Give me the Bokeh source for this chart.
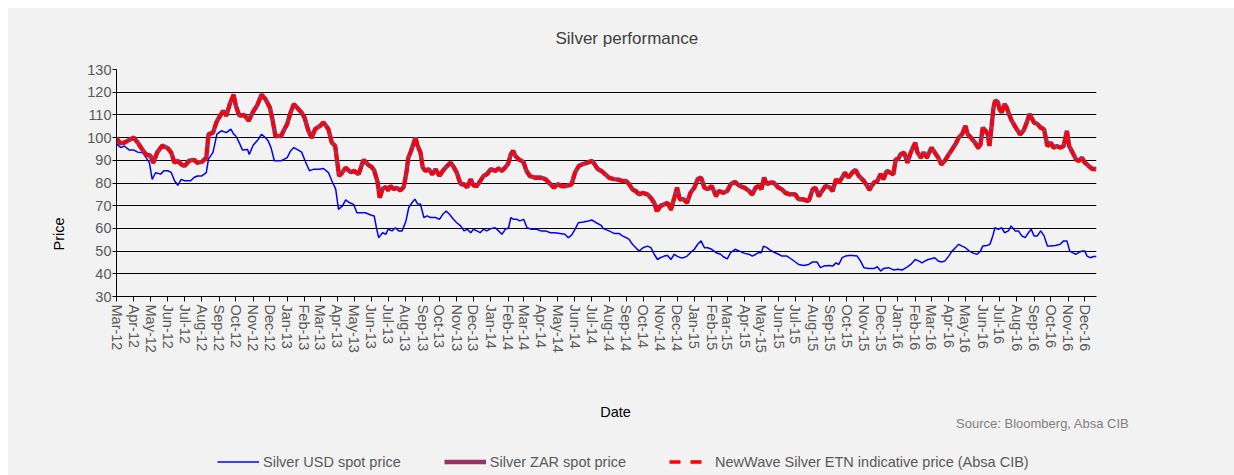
import pandas as pd
from bokeh.plotting import figure
from bokeh.layouts import column
from bokeh.models import (Range1d, FixedTicker, DatetimeTickFormatter, Title, Label,
                          Legend, LegendItem)
from bokeh.embed import file_html
from bokeh.resources import INLINE

# ---------------- data ----------------
usd_dates = [
    "2012-03-01", "2012-03-09", "2012-03-15", "2012-03-24", "2012-04-01", "2012-04-08",
    "2012-04-17", "2012-04-23", "2012-04-29", "2012-05-04", "2012-05-10", "2012-05-19",
    "2012-05-25", "2012-06-01", "2012-06-07", "2012-06-13", "2012-06-19", "2012-06-25",
    "2012-07-01", "2012-07-12", "2012-07-18", "2012-07-24", "2012-08-01", "2012-08-09",
    "2012-08-13", "2012-08-21", "2012-08-28", "2012-09-05", "2012-09-14", "2012-09-22",
    "2012-09-27", "2012-10-01", "2012-10-07", "2012-10-13", "2012-10-22", "2012-10-25",
    "2012-11-01", "2012-11-10", "2012-11-16", "2012-11-23", "2012-11-28", "2012-12-03",
    "2012-12-09", "2012-12-21", "2012-12-27", "2013-01-01", "2013-01-07", "2013-01-13",
    "2013-01-21", "2013-01-27", "2013-02-02", "2013-02-10", "2013-02-18", "2013-02-27",
    "2013-03-07", "2013-03-16", "2013-03-22", "2013-03-29", "2013-04-03", "2013-04-10",
    "2013-04-16", "2013-04-22", "2013-04-30", "2013-05-06", "2013-05-12", "2013-05-21",
    "2013-06-01", "2013-06-06", "2013-06-10", "2013-06-14", "2013-06-21", "2013-06-27",
    "2013-07-01", "2013-07-08", "2013-07-14", "2013-07-20", "2013-07-26", "2013-08-02",
    "2013-08-07", "2013-08-13", "2013-08-18", "2013-08-23", "2013-08-28", "2013-09-03",
    "2013-09-09", "2013-09-15", "2013-09-24", "2013-10-01", "2013-10-07", "2013-10-13",
    "2013-10-19", "2013-10-26", "2013-11-01", "2013-11-08", "2013-11-14", "2013-11-20",
    "2013-11-26", "2013-12-01", "2013-12-07", "2013-12-13", "2013-12-19", "2013-12-25",
    "2014-01-01", "2014-01-09", "2014-01-15", "2014-01-21", "2014-01-27", "2014-02-02",
    "2014-02-06", "2014-02-11", "2014-02-17", "2014-02-22", "2014-03-01", "2014-03-07",
    "2014-03-15", "2014-03-24", "2014-04-01", "2014-04-09", "2014-04-18", "2014-04-26",
    "2014-05-05", "2014-05-14", "2014-05-20", "2014-05-26", "2014-06-01", "2014-06-07",
    "2014-06-16", "2014-06-25", "2014-07-01", "2014-07-09", "2014-07-18", "2014-07-22",
    "2014-08-01", "2014-08-10", "2014-08-19", "2014-08-25", "2014-09-01", "2014-09-06",
    "2014-09-12", "2014-09-18", "2014-09-24", "2014-10-01", "2014-10-09", "2014-10-15",
    "2014-10-21", "2014-10-27", "2014-11-01", "2014-11-08", "2014-11-14", "2014-11-20",
    "2014-11-26", "2014-12-01", "2014-12-07", "2014-12-13", "2014-12-19", "2014-12-25",
    "2015-01-01", "2015-01-07", "2015-01-13", "2015-01-19", "2015-01-25", "2015-02-01",
    "2015-02-09", "2015-02-17", "2015-02-22", "2015-03-01", "2015-03-07", "2015-03-15",
    "2015-03-23", "2015-04-01", "2015-04-09", "2015-04-15", "2015-04-21", "2015-04-26",
    "2015-05-01", "2015-05-05", "2015-05-11", "2015-05-17", "2015-05-23", "2015-06-01",
    "2015-06-07", "2015-06-16", "2015-06-25", "2015-07-01", "2015-07-07", "2015-07-16",
    "2015-07-25", "2015-08-01", "2015-08-09", "2015-08-15", "2015-08-21", "2015-08-30",
    "2015-09-06", "2015-09-12", "2015-09-17", "2015-09-23", "2015-09-29", "2015-10-06",
    "2015-10-11", "2015-10-20", "2015-10-26", "2015-11-01", "2015-11-10", "2015-11-19",
    "2015-11-25", "2015-12-01", "2015-12-06", "2015-12-15", "2015-12-24", "2016-01-01",
    "2016-01-09", "2016-01-18", "2016-01-24", "2016-02-01", "2016-02-08", "2016-02-13",
    "2016-02-18", "2016-02-24", "2016-03-01", "2016-03-07", "2016-03-13", "2016-03-19",
    "2016-03-25", "2016-04-01", "2016-04-07", "2016-04-13", "2016-04-19", "2016-04-25",
    "2016-05-01", "2016-05-08", "2016-05-16", "2016-05-22", "2016-05-28", "2016-06-01",
    "2016-06-09", "2016-06-14", "2016-06-19", "2016-06-23", "2016-06-29", "2016-07-05",
    "2016-07-10", "2016-07-17", "2016-07-22", "2016-07-29", "2016-08-04", "2016-08-10",
    "2016-08-16", "2016-08-22", "2016-08-27", "2016-09-01", "2016-09-07", "2016-09-13",
    "2016-09-19", "2016-09-25", "2016-10-01", "2016-10-09", "2016-10-18", "2016-10-24",
    "2016-10-30", "2016-11-04", "2016-11-09", "2016-11-15", "2016-11-20", "2016-11-26",
    "2016-12-01", "2016-12-05", "2016-12-11", "2016-12-17", "2016-12-22",
]
usd_values = [
    97.1, 95.6, 96.3, 94.5, 94.5, 93.6, 93.3, 91.2, 89.0, 81.6, 84.5, 83.9,
    85.4, 85.4, 84.7, 81.0, 79.0, 81.6, 81.0, 81.0, 82.4, 83.1, 83.1, 84.6,
    90.6, 93.5, 101.5, 103.0, 102.2, 103.7, 101.5, 100.7, 97.8, 94.5, 94.8, 92.6,
    96.6, 99.2, 101.5, 100.0, 98.5, 95.6, 89.8, 89.8, 90.5, 91.2, 94.1, 95.6,
    94.5, 93.6, 89.8, 85.4, 86.1, 86.1, 86.4, 84.6, 81.0, 77.3, 68.4, 69.9,
    72.6, 71.4, 70.6, 66.9, 66.9, 66.9, 65.8, 65.5, 60.3, 55.9, 58.1, 57.4,
    59.6, 58.9, 60.3, 58.9, 58.9, 63.3, 69.2, 71.4, 72.9, 70.7, 70.7, 64.8,
    65.5, 64.8, 64.8, 64.0, 66.2, 67.7, 66.2, 64.0, 62.5, 61.1, 58.9, 59.6,
    58.1, 59.6, 58.9, 58.1, 59.6, 58.9, 59.9, 60.3, 58.9, 57.4, 59.6, 60.3,
    64.8, 64.0, 64.0, 63.3, 64.0, 60.3, 59.6, 59.6, 58.9, 58.9, 58.1, 58.1,
    57.8, 57.4, 55.9, 57.0, 59.6, 62.5, 62.8, 63.3, 63.7, 62.5, 61.3, 59.9,
    58.9, 57.8, 57.8, 56.7, 55.9, 55.2, 53.0, 51.5, 50.0, 51.5, 52.2, 51.5,
    48.6, 46.3, 47.1, 47.8, 48.1, 46.3, 48.6, 47.8, 47.1, 47.1, 47.8, 49.3,
    50.8, 53.0, 54.5, 51.5, 51.5, 50.8, 49.3, 48.6, 47.5, 46.6, 49.3, 50.8,
    50.0, 49.0, 48.6, 47.8, 48.6, 49.3, 49.3, 52.2, 51.5, 50.4, 49.6, 48.6,
    47.8, 47.8, 46.3, 45.2, 44.1, 43.7, 44.1, 45.2, 45.2, 42.7, 43.4, 43.7,
    43.4, 44.8, 44.1, 47.1, 47.8, 48.1, 48.1, 47.8, 45.6, 42.7, 42.3, 42.3,
    43.1, 41.2, 42.3, 42.7, 41.7, 42.0, 41.7, 43.1, 44.1, 46.3, 45.6, 44.8,
    45.6, 46.3, 46.6, 47.1, 45.6, 45.2, 45.6, 47.8, 50.0, 51.5, 53.0, 52.2,
    51.5, 50.0, 49.0, 48.6, 50.0, 52.2, 52.5, 53.0, 56.7, 60.3, 59.6, 60.3,
    58.1, 58.9, 61.1, 58.9, 58.9, 56.7, 55.9, 58.1, 59.6, 56.7, 56.7, 58.9,
    56.7, 52.2, 52.2, 52.5, 53.0, 54.5, 54.5, 50.0, 49.3, 48.6, 49.3, 50.0,
    50.0, 47.8, 47.1, 47.6, 47.6,
]

zar_dates = [
    "2012-03-01", "2012-03-07", "2012-03-15", "2012-03-24", "2012-04-01", "2012-04-08",
    "2012-04-17", "2012-04-23", "2012-05-01", "2012-05-06", "2012-05-13", "2012-05-22",
    "2012-06-01", "2012-06-07", "2012-06-13", "2012-06-19", "2012-06-25", "2012-07-01",
    "2012-07-09", "2012-07-18", "2012-07-24", "2012-08-01", "2012-08-09", "2012-08-13",
    "2012-08-21", "2012-08-27", "2012-09-01", "2012-09-08", "2012-09-14", "2012-09-20",
    "2012-09-27", "2012-10-01", "2012-10-07", "2012-10-16", "2012-10-24", "2012-11-01",
    "2012-11-08", "2012-11-16", "2012-11-23", "2012-12-01", "2012-12-06", "2012-12-11",
    "2012-12-21", "2012-12-27", "2013-01-01", "2013-01-07", "2013-01-13", "2013-01-21",
    "2013-01-27", "2013-02-01", "2013-02-08", "2013-02-14", "2013-02-20", "2013-02-24",
    "2013-03-01", "2013-03-07", "2013-03-16", "2013-03-22", "2013-03-28", "2013-04-04",
    "2013-04-10", "2013-04-16", "2013-04-25", "2013-05-01", "2013-05-09", "2013-05-18",
    "2013-05-27", "2013-06-01", "2013-06-06", "2013-06-12", "2013-06-16", "2013-06-21",
    "2013-06-27", "2013-07-01", "2013-07-05", "2013-07-11", "2013-07-17", "2013-07-23",
    "2013-07-29", "2013-08-03", "2013-08-06", "2013-08-11", "2013-08-17", "2013-08-19",
    "2013-08-23", "2013-08-28", "2013-09-01", "2013-09-06", "2013-09-12", "2013-09-18",
    "2013-09-24", "2013-10-01", "2013-10-07", "2013-10-15", "2013-10-21", "2013-10-27",
    "2013-11-01", "2013-11-08", "2013-11-14", "2013-11-20", "2013-11-26", "2013-12-01",
    "2013-12-07", "2013-12-13", "2013-12-19", "2013-12-25", "2014-01-01", "2014-01-09",
    "2014-01-15", "2014-01-21", "2014-01-27", "2014-02-01", "2014-02-06", "2014-02-10",
    "2014-02-14", "2014-02-20", "2014-02-25", "2014-03-01", "2014-03-06", "2014-03-12",
    "2014-03-21", "2014-04-01", "2014-04-09", "2014-04-18", "2014-04-24", "2014-05-01",
    "2014-05-08", "2014-05-17", "2014-05-26", "2014-06-01", "2014-06-08", "2014-06-16",
    "2014-06-23", "2014-07-01", "2014-07-06", "2014-07-12", "2014-07-18", "2014-07-22",
    "2014-08-01", "2014-08-10", "2014-08-19", "2014-08-25", "2014-09-01", "2014-09-06",
    "2014-09-12", "2014-09-18", "2014-09-24", "2014-10-01", "2014-10-09", "2014-10-15",
    "2014-10-21", "2014-10-26", "2014-11-01", "2014-11-08", "2014-11-14", "2014-11-20",
    "2014-11-26", "2014-12-01", "2014-12-06", "2014-12-13", "2014-12-19", "2014-12-25",
    "2015-01-01", "2015-01-07", "2015-01-13", "2015-01-19", "2015-01-25", "2015-02-01",
    "2015-02-09", "2015-02-14", "2015-02-22", "2015-03-01", "2015-03-07", "2015-03-15",
    "2015-03-23", "2015-04-01", "2015-04-09", "2015-04-15", "2015-04-21", "2015-04-26",
    "2015-05-01", "2015-05-06", "2015-05-11", "2015-05-17", "2015-05-23", "2015-06-01",
    "2015-06-07", "2015-06-13", "2015-06-22", "2015-07-01", "2015-07-07", "2015-07-16",
    "2015-07-25", "2015-08-01", "2015-08-06", "2015-08-12", "2015-08-18", "2015-08-24",
    "2015-09-01", "2015-09-06", "2015-09-12", "2015-09-17", "2015-09-23", "2015-09-28",
    "2015-10-04", "2015-10-11", "2015-10-17", "2015-10-23", "2015-11-01", "2015-11-07",
    "2015-11-11", "2015-11-19", "2015-11-25", "2015-12-01", "2015-12-06", "2015-12-12",
    "2015-12-18", "2015-12-24", "2015-12-28", "2016-01-01", "2016-01-06", "2016-01-12",
    "2016-01-18", "2016-01-24", "2016-02-01", "2016-02-05", "2016-02-11", "2016-02-16",
    "2016-02-22", "2016-03-01", "2016-03-07", "2016-03-13", "2016-03-19", "2016-03-25",
    "2016-04-01", "2016-04-07", "2016-04-13", "2016-04-19", "2016-04-25", "2016-05-01",
    "2016-05-05", "2016-05-11", "2016-05-18", "2016-05-24", "2016-05-28", "2016-06-01",
    "2016-06-06", "2016-06-10", "2016-06-13", "2016-06-17", "2016-06-20", "2016-06-23",
    "2016-06-28", "2016-07-01", "2016-07-05", "2016-07-10", "2016-07-14", "2016-07-18",
    "2016-07-23", "2016-08-01", "2016-08-07", "2016-08-13", "2016-08-19", "2016-08-24",
    "2016-09-01", "2016-09-07", "2016-09-13", "2016-09-19", "2016-09-25", "2016-10-01",
    "2016-10-06", "2016-10-12", "2016-10-18", "2016-10-24", "2016-10-30", "2016-11-03",
    "2016-11-09", "2016-11-15", "2016-11-20", "2016-11-26", "2016-12-01", "2016-12-08",
    "2016-12-14", "2016-12-22",
]
zar_values = [
    100.0, 97.5, 97.8, 99.0, 100.0, 97.8, 94.5, 92.6, 92.0, 89.0, 93.5, 96.5,
    95.3, 93.5, 89.0, 89.8, 88.3, 87.5, 89.8, 90.2, 89.0, 89.3, 91.2, 101.5,
    102.2, 106.7, 108.9, 111.8, 109.7, 114.8, 118.9, 114.1, 109.7, 110.0, 107.5, 111.5,
    114.1, 118.9, 117.0, 113.3, 107.5, 100.7, 100.7, 103.7, 106.0, 111.0, 114.8, 112.6,
    111.0, 108.9, 103.0, 100.0, 103.7, 104.4, 105.2, 106.7, 103.7, 97.8, 96.4, 83.2,
    84.7, 86.8, 84.7, 85.4, 83.9, 90.2, 87.9, 87.2, 85.6, 80.5, 73.5, 77.5,
    78.3, 76.8, 78.7, 77.5, 77.8, 76.8, 78.3, 85.0, 91.0, 94.1, 98.5, 100.0,
    96.3, 93.5, 86.9, 85.4, 86.1, 83.9, 86.1, 83.1, 85.4, 87.6, 89.0, 86.9,
    84.6, 79.5, 79.5, 78.1, 81.7, 79.0, 78.7, 80.9, 83.1, 83.9, 86.1, 85.4,
    86.4, 85.4, 86.9, 88.4, 92.7, 94.2, 92.0, 90.5, 89.8, 89.0, 85.4, 83.1,
    82.4, 82.4, 81.7, 79.5, 78.0, 79.5, 78.7, 78.7, 79.5, 84.6, 87.6, 88.4,
    89.0, 89.8, 88.4, 86.1, 85.4, 84.6, 82.4, 81.7, 81.4, 80.9, 80.9, 79.5,
    77.2, 76.5, 75.0, 75.7, 75.0, 73.5, 71.3, 67.6, 69.9, 70.6, 71.3, 68.4,
    73.5, 78.0, 72.8, 72.8, 71.3, 75.7, 78.0, 81.7, 82.4, 78.0, 77.2, 78.7,
    74.3, 76.5, 75.7, 76.5, 79.5, 80.5, 78.7, 78.0, 76.5, 75.0, 78.0, 78.7,
    77.2, 82.4, 79.5, 80.2, 80.2, 78.0, 77.2, 75.7, 75.0, 75.0, 72.8, 72.8,
    72.0, 77.2, 78.0, 74.3, 76.5, 78.7, 78.0, 76.5, 81.7, 80.2, 82.4, 84.6,
    82.4, 84.6, 85.8, 83.1, 80.9, 78.7, 77.2, 80.2, 80.9, 84.0, 81.7, 85.4,
    84.6, 83.9, 90.5, 90.5, 92.7, 93.5, 89.0, 93.5, 97.8, 93.5, 91.2, 93.5,
    91.2, 95.6, 93.5, 91.2, 88.3, 89.8, 92.6, 94.8, 97.1, 100.0, 101.5, 105.2,
    101.5, 100.0, 97.8, 95.6, 97.0, 104.4, 103.0, 101.5, 96.3, 105.2, 112.6, 116.3,
    115.8, 112.6, 111.0, 114.8, 113.3, 110.4, 107.5, 103.7, 101.5, 103.0, 106.7, 110.4,
    106.7, 106.0, 104.4, 103.7, 96.3, 97.8, 95.6, 96.3, 95.6, 96.3, 103.0, 96.3,
    93.5, 90.5, 89.8, 91.2, 89.0, 87.5, 86.4, 86.1,
]
# NewWave ETN tracks the ZAR price on the same dates
etn_values = [
    100.0, 97.3, 97.6, 99.0, 99.8, 97.6, 94.3, 92.4, 91.8, 88.8, 93.3, 96.3,
    95.1, 93.3, 88.8, 89.6, 88.1, 87.3, 89.6, 90.0, 88.8, 89.1, 91.0, 101.3,
    102.0, 106.5, 108.7, 111.6, 109.5, 114.6, 118.9, 114.0, 109.5, 109.8, 107.3, 111.3,
    114.0, 118.9, 116.8, 113.1, 107.3, 100.5, 100.5, 103.5, 105.8, 110.8, 114.8, 112.4,
    110.8, 108.7, 102.8, 99.8, 103.5, 104.2, 105.0, 106.5, 103.5, 97.6, 96.2, 83.0,
    84.5, 86.6, 84.5, 85.2, 83.7, 90.0, 87.7, 87.0, 85.4, 80.3, 73.0, 77.3,
    78.1, 76.6, 78.5, 77.3, 77.6, 76.6, 78.1, 84.8, 90.8, 93.9, 98.3, 100.0,
    96.1, 93.3, 86.7, 85.2, 85.9, 83.7, 85.9, 82.9, 85.2, 87.4, 88.8, 86.7,
    84.4, 79.3, 79.3, 77.9, 81.5, 78.8, 78.5, 80.7, 82.9, 83.7, 85.9, 85.2,
    86.2, 85.2, 86.7, 88.2, 92.5, 94.0, 91.8, 90.3, 89.6, 88.8, 85.2, 82.9,
    82.2, 82.2, 81.5, 79.3, 77.8, 79.3, 78.5, 78.5, 79.3, 84.4, 87.4, 88.2,
    88.8, 89.6, 88.2, 85.9, 85.2, 84.4, 82.2, 81.5, 81.2, 80.7, 80.7, 79.3,
    77.0, 76.3, 74.8, 75.5, 74.8, 73.3, 71.1, 67.0, 69.7, 70.4, 71.1, 68.0,
    73.3, 77.8, 72.6, 72.6, 71.1, 75.5, 77.8, 81.5, 82.2, 77.8, 77.0, 78.5,
    74.0, 76.3, 75.5, 76.3, 79.3, 80.3, 78.5, 77.8, 76.3, 74.8, 77.8, 78.5,
    77.0, 82.2, 79.3, 80.0, 80.0, 77.8, 77.0, 75.5, 74.8, 74.8, 72.6, 72.6,
    71.8, 77.0, 77.8, 74.0, 76.3, 78.5, 77.8, 76.3, 81.5, 80.0, 82.2, 84.4,
    82.2, 84.4, 85.6, 82.9, 80.7, 78.5, 76.8, 80.0, 80.7, 83.8, 81.5, 85.2,
    84.4, 83.7, 90.3, 90.3, 92.5, 93.3, 88.8, 93.3, 97.6, 93.3, 91.0, 93.3,
    91.0, 95.4, 93.3, 91.0, 88.0, 89.6, 92.4, 94.6, 96.9, 99.8, 101.3, 105.0,
    101.3, 99.8, 97.6, 95.2, 96.8, 104.2, 102.8, 101.3, 95.8, 105.0, 112.4, 116.1,
    115.6, 112.4, 110.8, 114.6, 113.1, 110.2, 107.3, 103.5, 101.3, 102.8, 106.5, 110.2,
    106.5, 105.8, 104.2, 103.5, 96.1, 97.6, 95.4, 96.1, 95.4, 96.1, 102.6, 96.1,
    93.3, 90.3, 89.6, 91.0, 88.8, 87.3, 86.0, 85.8,
]

tick_months = [d.strftime("%Y-%m-%d") for d in pd.date_range("2012-03-01", "2016-12-01", freq="MS")]
y_ticks = [30, 40, 50, 60, 70, 80, 90, 100, 110, 120, 130]

series_names = ["Silver USD spot price", "Silver ZAR spot price",
                "NewWave Silver ETN indicative price (Absa CIB)"]

# ---------------- styles ----------------
FONT = "Liberation Sans"
BG = "#f2f2f2"
USD_STYLE = dict(line_color="#0000ff", line_width=1.5)
ZAR_STYLE = dict(line_color="#993366", line_width=4.5)
ETN_STYLE = dict(line_color="#ff0000", line_width=3.5, line_dash="7 3")
ETN_KEY_STYLE = dict(line_color="#ff0000", line_width=3.5, line_dash="11 10")

usd_x = pd.to_datetime(usd_dates)
zar_x = pd.to_datetime(zar_dates)

# ---------------- main chart ----------------
p = figure(width=1226, height=362, x_axis_type="datetime",
           output_backend="svg", toolbar_location=None,
           x_range=Range1d(pd.Timestamp("2012-03-01"), pd.Timestamp("2016-12-22")),
           y_range=Range1d(30, 130),
           min_border_left=108, min_border_right=138,
           min_border_top=61, min_border_bottom=74)
p.frame_align = False
p.background_fill_color = BG
p.border_fill_color = BG
p.outline_line_color = None

r_usd = p.line(usd_x, usd_values, **USD_STYLE)
r_zar = p.line(zar_x, zar_values, **ZAR_STYLE)
r_etn = p.line(zar_x, etn_values, **ETN_STYLE)

epoch = pd.Timestamp("1970-01-01")
xticks_ms = [(pd.Timestamp(t) - epoch).total_seconds() * 1000 for t in tick_months]
p.xaxis.ticker = FixedTicker(ticks=xticks_ms, minor_ticks=[])
fmt = "%b-%y"
p.xaxis.formatter = DatetimeTickFormatter(
    microseconds=fmt, milliseconds=fmt, seconds=fmt, minsec=fmt, minutes=fmt,
    hourmin=fmt, hours=fmt, days=fmt, months=fmt, years=fmt)
p.xaxis.major_label_orientation = "vertical"
p.yaxis.ticker = FixedTicker(ticks=y_ticks, minor_ticks=[])

for ax in (p.xaxis[0], p.yaxis[0]):
    ax.axis_line_color = "#000000"
    ax.axis_line_width = 1
    ax.major_tick_line_color = "#000000"
    ax.major_tick_in = 0
    ax.major_tick_out = 5
    ax.minor_tick_line_color = None
    ax.major_label_text_font = FONT
    ax.major_label_text_font_size = "14.5px"
    ax.major_label_text_color = "#595959"
p.xaxis.major_label_standoff = 3
p.yaxis.major_label_standoff = 1
p.yaxis.major_tick_out = 4

p.xgrid.grid_line_color = None
p.ygrid.grid_line_color = "#000000"
p.ygrid.grid_line_width = 1

p.title.text = "Silver performance"
p.title.align = "left"
p.title.vertical_align = "top"
p.title.offset = 439
p.title.standoff = 40
p.title.text_font = FONT
p.title.text_font_size = "17px"
p.title.text_font_style = "normal"
p.title.text_color = "#404040"

p.add_layout(Title(text="Price", align="left", offset=46, standoff=35,
                   text_font=FONT, text_font_size="14.5px", text_font_style="normal",
                   text_color="#000000"), "left")

# ---------------- footer: axis title, source and legend ----------------
foot = figure(width=1226, height=105, x_range=Range1d(0, 1), y_range=Range1d(0, 1),
              output_backend="svg", toolbar_location=None,
              x_axis_location=None, y_axis_location=None, min_border=0)
foot.frame_align = False
foot.background_fill_color = BG
foot.border_fill_color = BG
foot.outline_line_color = None
foot.grid.grid_line_color = None

foot.add_layout(Label(x=607, y=64, x_units="screen", y_units="screen", text="Date",
                      text_font=FONT, text_font_size="14.5px", text_color="#000000",
                      text_align="center", text_baseline="middle"))
foot.add_layout(Label(x=1121, y=52, x_units="screen", y_units="screen",
                      text="Source: Bloomberg, Absa CIB",
                      text_font=FONT, text_font_size="13px", text_color="#7f7f7f",
                      text_align="right", text_baseline="middle"))

# legend proxies: same series, drawn outside this footer's ranges (only the key shows)
k_usd = foot.line(usd_x, usd_values, **USD_STYLE)
k_zar = foot.line(zar_x, zar_values, **ZAR_STYLE)
k_etn = foot.line(zar_x, etn_values, **ETN_KEY_STYLE)
legend = Legend(items=[LegendItem(label=series_names[0], renderers=[k_usd]),
                       LegendItem(label=series_names[1], renderers=[k_zar]),
                       LegendItem(label=series_names[2], renderers=[k_etn])],
                orientation="horizontal", location=(209, 5),
                glyph_width=42, glyph_height=17, label_standoff=4, spacing=43,
                padding=0, margin=0, border_line_color=None,
                background_fill_alpha=0,
                label_text_font=FONT, label_text_font_size="14.5px",
                label_text_color="#595959")
foot.add_layout(legend)

layout = column(p, foot, spacing=0, margin=(8, 0, 0, 8),
                styles={"background-color": BG})
open("out.html", "w").write(file_html(layout, INLINE))
